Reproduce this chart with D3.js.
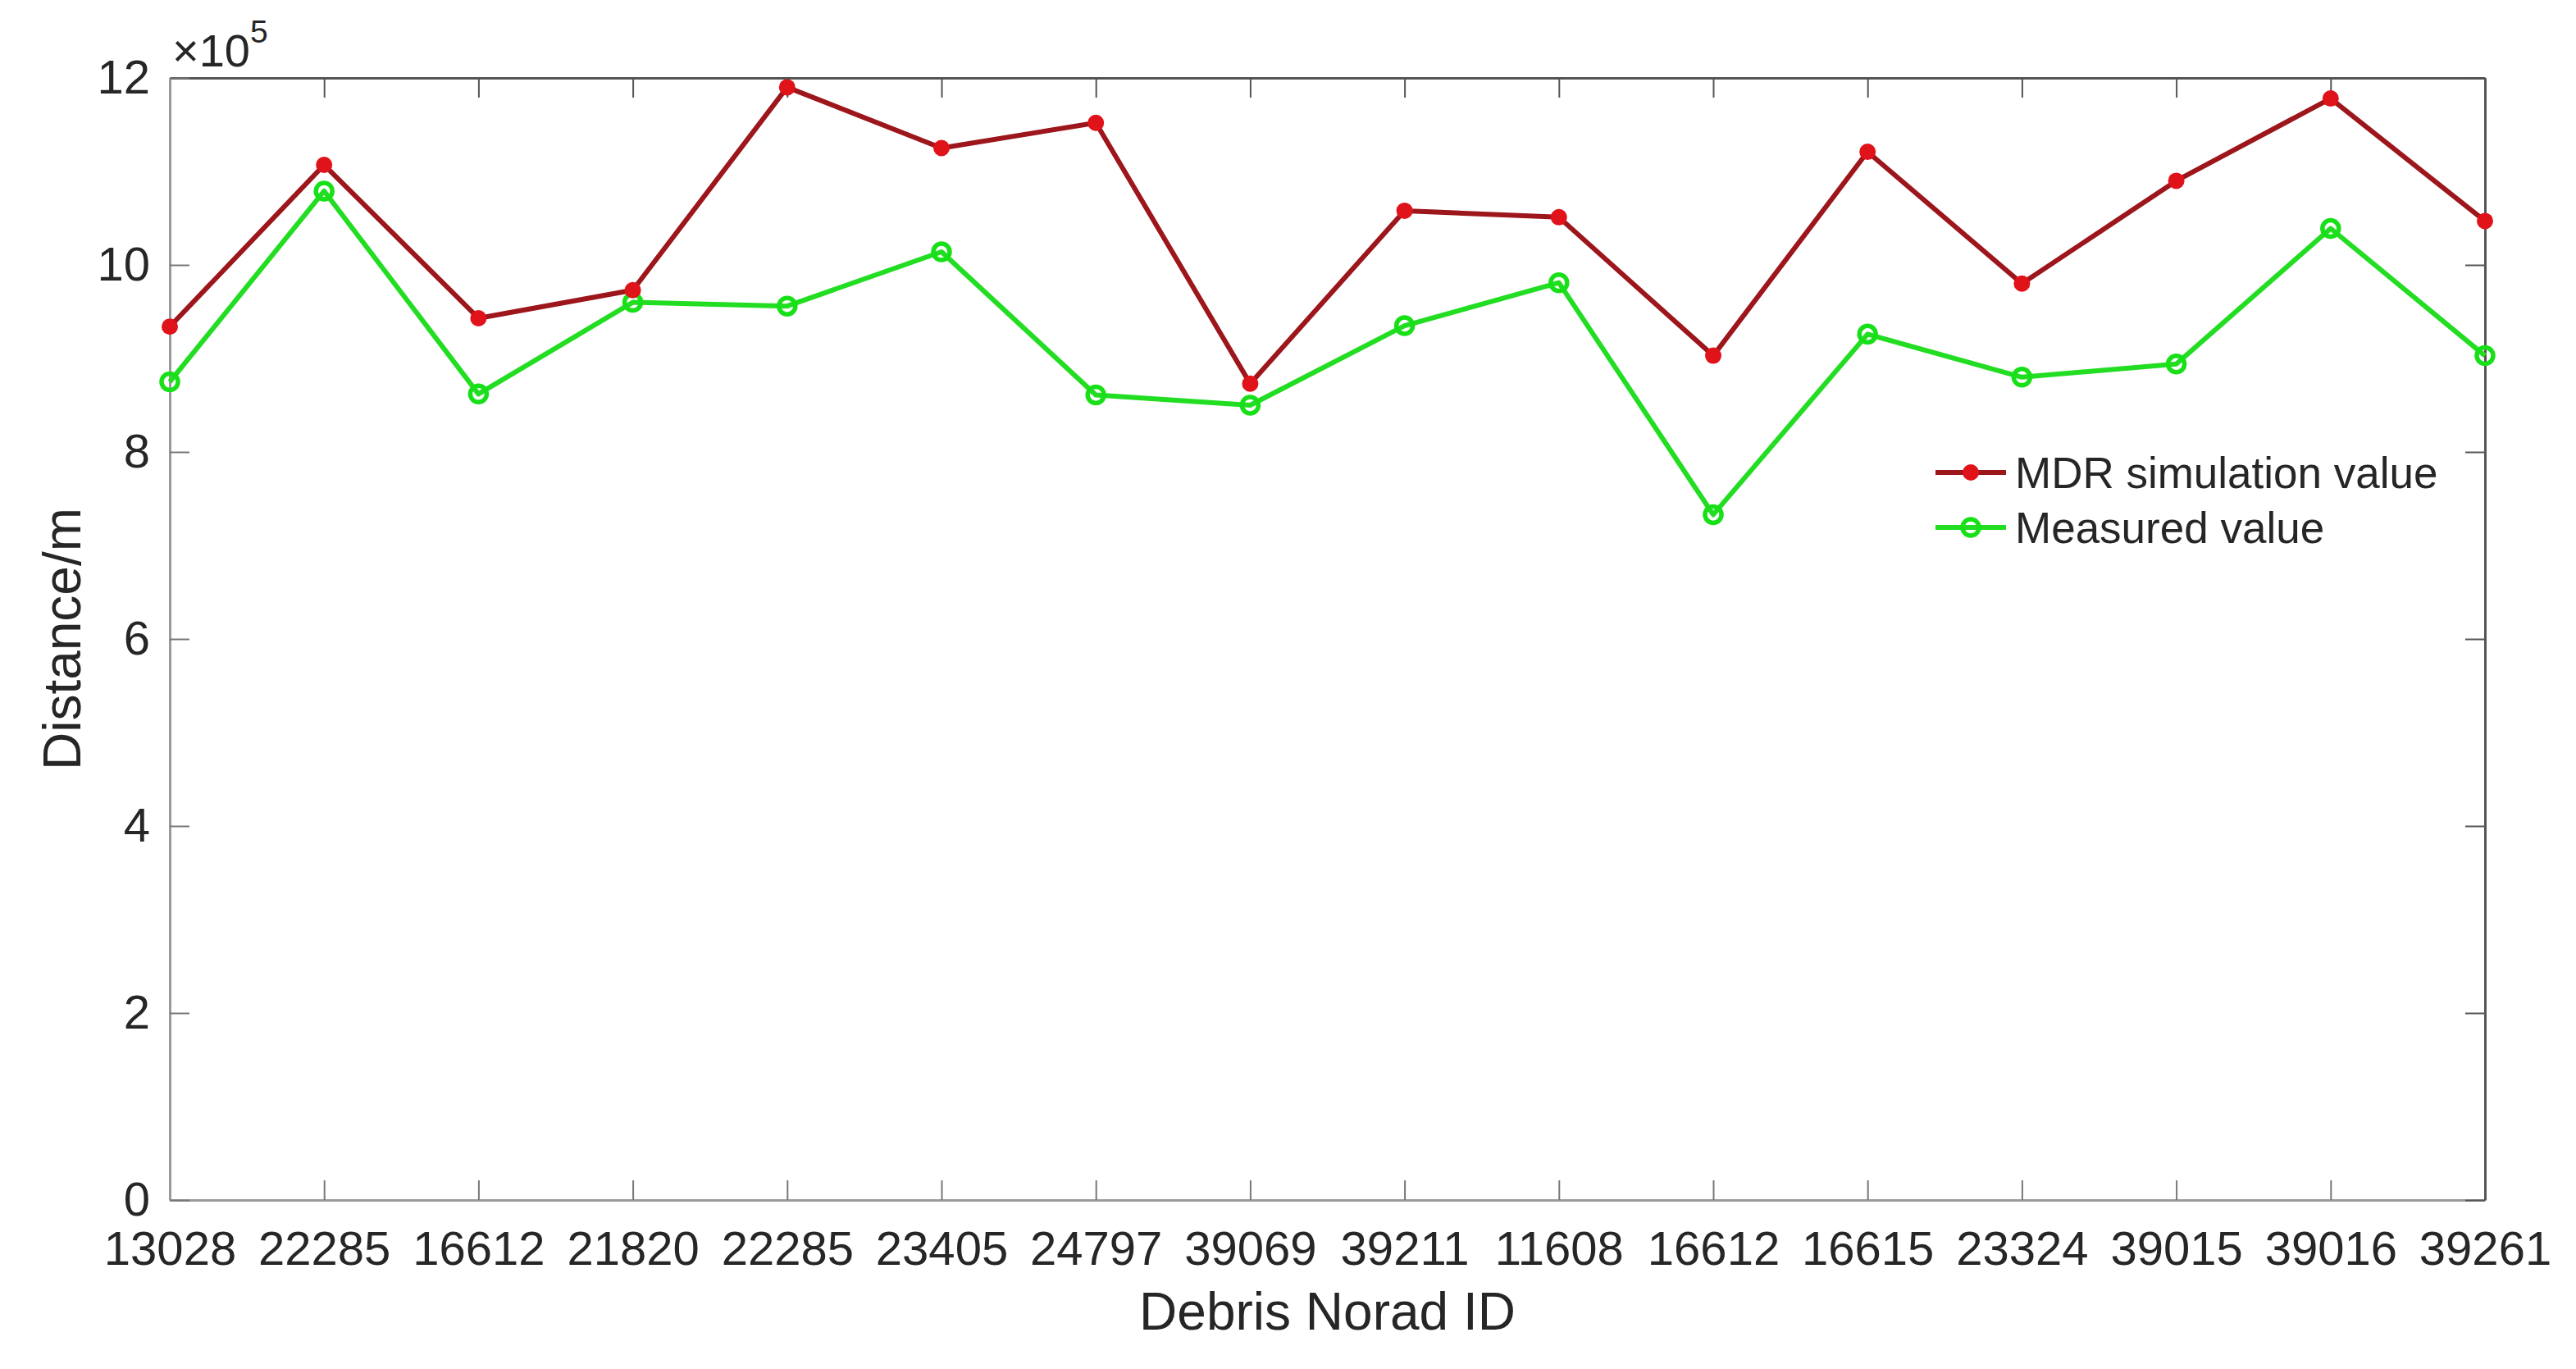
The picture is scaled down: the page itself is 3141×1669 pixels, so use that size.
<!DOCTYPE html>
<html>
<head>
<meta charset="utf-8">
<script src="https://cdn.jsdelivr.net/npm/d3@7/dist/d3.min.js"></script>
<style>
html,body{margin:0;padding:0;background:#fff;}
svg{display:block;}
text{font-family:"Liberation Sans",Arial,Helvetica,sans-serif;fill:#262626;}
</style>
</head>
<body>
<svg id="chart" width="3141" height="1669"></svg>
<script>
const categories = ["13028","22285","16612","21820","22285","23405","24797","39069","39211","11608","16612","16615","23324","39015","39016","39261"];
const mdrValues = [9.34,11.07,9.43,9.73,11.90,11.25,11.52,8.73,10.58,10.51,9.03,11.21,9.80,10.90,11.78,10.47];
const measuredValues = [8.75,10.79,8.62,9.60,9.56,10.14,8.61,8.50,9.35,9.81,7.33,9.26,8.80,8.94,10.39,9.03];
const yTicks = [0,2,4,6,8,10,12];
const seriesNames = ["MDR simulation value","Measured value"];

const W = 3141, H = 1669;
const m = {left:207, right:W-3030, top:95, bottom:H-1463};
const svg = d3.select("#chart");
const iw = W - m.left - m.right, ih = H - m.top - m.bottom;

const x = d3.scalePoint().domain(d3.range(categories.length)).range([0, iw]);
const y = d3.scaleLinear().domain([0,12]).range([ih, 0]);

const g = svg.append("g").attr("transform",`translate(${m.left},${m.top})`);

const tickLen = 24;
// bottom axis
const xb = g.append("g").attr("transform",`translate(0,${ih})`)
  .call(d3.axisBottom(x).tickValues(d3.range(categories.length)).tickFormat(i=>categories[i]).tickSizeInner(-tickLen).tickSizeOuter(0).tickPadding(38));
xb.select(".domain").attr("stroke","#9a9a9a").attr("stroke-width",3);
xb.selectAll(".tick line").attr("stroke","#777").attr("stroke-width",2);
xb.selectAll(".tick text").style("font-size","58px").attr("fill","#262626");

// top axis
const xt = g.append("g")
  .call(d3.axisTop(x).tickValues(d3.range(categories.length)).tickFormat("").tickSizeInner(-tickLen).tickSizeOuter(0));
xt.select(".domain").attr("stroke","#555").attr("stroke-width",3);
xt.selectAll(".tick line").attr("stroke","#555").attr("stroke-width",2);

// left axis
const yl = g.append("g")
  .call(d3.axisLeft(y).tickValues(yTicks).tickFormat(d3.format("d")).tickSizeInner(-tickLen).tickSizeOuter(0).tickPadding(24));
yl.select(".domain").attr("stroke","#9a9a9a").attr("stroke-width",3);
yl.selectAll(".tick line").attr("stroke","#777").attr("stroke-width",2);
yl.selectAll(".tick text").style("font-size","58px").attr("fill","#262626");

// right axis
const yr = g.append("g").attr("transform",`translate(${iw},0)`)
  .call(d3.axisRight(y).tickValues(yTicks).tickFormat("").tickSizeInner(-tickLen).tickSizeOuter(0));
yr.select(".domain").attr("stroke","#555").attr("stroke-width",3);
yr.selectAll(".tick line").attr("stroke","#555").attr("stroke-width",2);

// exponent label
const ex = svg.append("text").attr("x",210).attr("y",81).style("font-size","56px");
ex.append("tspan").text("×10");
ex.append("tspan").attr("dy",-29).style("font-size","39px").text("5");

// axis labels
svg.append("text").attr("x",m.left+iw/2).attr("y",1621).attr("text-anchor","middle")
  .style("font-size","64px").text("Debris Norad ID");
svg.append("text").attr("transform",`translate(98,${m.top+ih/2}) rotate(-90)`).attr("text-anchor","middle")
  .style("font-size","64px").text("Distance/m");

const line = d3.line().x((d,i)=>x(i)).y(d=>y(d));

// measured (green)
g.append("path").datum(measuredValues).attr("d",line).attr("fill","none")
  .attr("stroke","#22dd22").attr("stroke-width",6).attr("stroke-linejoin","round");
g.selectAll(".gm").data(measuredValues).enter().append("circle")
  .attr("cx",(d,i)=>x(i)).attr("cy",d=>y(d)).attr("r",10)
  .attr("fill","none").attr("stroke","#18e018").attr("stroke-width",5.5);

// MDR (red)
g.append("path").datum(mdrValues).attr("d",line).attr("fill","none")
  .attr("stroke","#9c161c").attr("stroke-width",6).attr("stroke-linejoin","round");
g.selectAll(".rm").data(mdrValues).enter().append("circle")
  .attr("cx",(d,i)=>x(i)).attr("cy",d=>y(d)).attr("r",10)
  .attr("fill","#e0121a");

// legend
const lg = svg.append("g");
const legY = [576, 643];
const legColorsLine = ["#9c161c","#22dd22"];
seriesNames.forEach((name,k)=>{
  lg.append("line").attr("x1",2360).attr("x2",2446).attr("y1",legY[k]).attr("y2",legY[k])
    .attr("stroke",legColorsLine[k]).attr("stroke-width",6);
  if(k===0){
    lg.append("circle").attr("cx",2403).attr("cy",legY[k]).attr("r",10).attr("fill","#e0121a");
  } else {
    lg.append("circle").attr("cx",2403).attr("cy",legY[k]).attr("r",10).attr("fill","none")
      .attr("stroke","#18e018").attr("stroke-width",5.5);
  }
  lg.append("text").attr("x",2457).attr("y",legY[k]+19).style("font-size","53px").attr("fill","#111").text(name);
});
</script>
</body>
</html>
